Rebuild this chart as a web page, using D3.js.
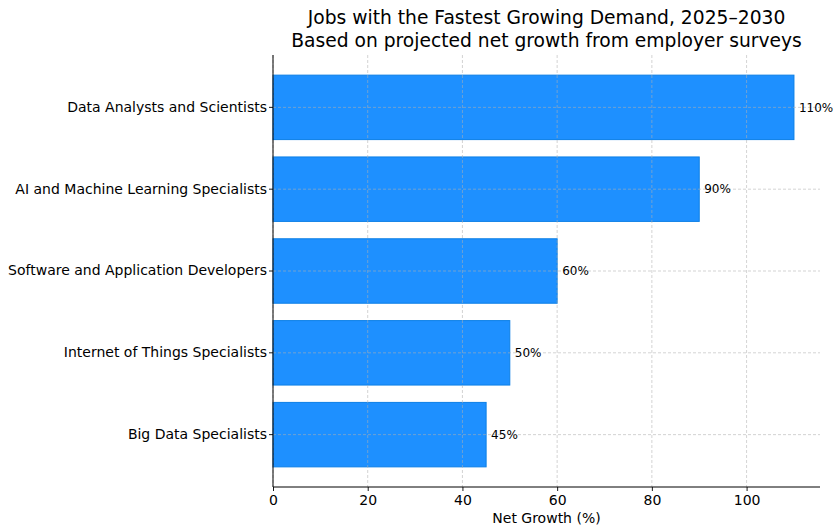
<!DOCTYPE html>
<html>
<head>
<meta charset="UTF-8">
<script src="https://d3js.org/d3.v7.min.js"></script>
<style>
  body { margin: 0; background: #fff; }
  svg text { font-family: "DejaVu Sans", sans-serif; fill: #000; }
</style>
</head>
<body>
<svg width="836" height="527"></svg>
<script>
// data
const jobs = [
  "Data Analysts and Scientists",
  "AI and Machine Learning Specialists",
  "Software and Application Developers",
  "Internet of Things Specialists",
  "Big Data Specialists"
];
const growth = [110, 90, 60, 50, 45];
const xTicks = [0, 20, 40, 60, 80, 100];

const dataset = jobs.map((j, i) => ({ job: j, value: growth[i] }));

const margin = { top: 55, right: 16, bottom: 40, left: 273 },
      width = 836 - margin.left - margin.right,
      height = 527 - margin.top - margin.bottom;

const svg = d3.select("svg");
const g = svg.append("g")
  .attr("transform", `translate(${margin.left},${margin.top})`);

const x = d3.scaleLinear().domain([0, 115.5]).range([0, width]);

// matplotlib-ish band: bars 0.8 tall, 0.24 margin either side
const step = height / 5.28;
const y = d3.scaleBand()
  .domain(jobs)
  .range([0.14 * step, height - 0.14 * step])
  .paddingInner(0.2)
  .paddingOuter(0.1);

g.selectAll(".bar")
  .data(dataset)
  .enter()
  .append("rect")
  .attr("class", "bar")
  .attr("x", 0)
  .attr("y", d => y(d.job) + 0.5)
  .attr("width", d => x(d.value))
  .attr("height", y.bandwidth() - 1)
  .attr("fill", "#1e90ff")
  .attr("stroke", "#0b7fe6")
  .attr("stroke-width", 1);

// grid on top of bars
const grid = g.append("g").attr("class", "grid");
grid.selectAll(".vgrid")
  .data(xTicks.concat([120]).filter(t => x(t) <= width))
  .enter()
  .append("line")
  .attr("x1", d => x(d)).attr("x2", d => x(d))
  .attr("y1", 0).attr("y2", height)
  .attr("stroke", "#b0b0b0")
  .attr("stroke-opacity", 0.7)
  .attr("stroke-dasharray", "3,2")
  .attr("stroke-width", 0.8);
grid.selectAll(".hgrid")
  .data(jobs)
  .enter()
  .append("line")
  .attr("x1", 0).attr("x2", width)
  .attr("y1", d => y(d) + y.bandwidth() / 2)
  .attr("y2", d => y(d) + y.bandwidth() / 2)
  .attr("stroke", "#b0b0b0")
  .attr("stroke-opacity", 0.7)
  .attr("stroke-dasharray", "3,2")
  .attr("stroke-width", 0.8);

g.selectAll(".label")
  .data(dataset)
  .enter()
  .append("text")
  .attr("class", "label")
  .attr("x", d => x(d.value) + 5)
  .attr("y", d => y(d.job) + y.bandwidth() / 2)
  .attr("dy", "0.35em")
  .style("font-size", "12px")
  .text(d => d.value + "%");

const xAxis = g.append("g")
  .attr("transform", `translate(0,${height})`)
  .call(d3.axisBottom(x).tickValues(xTicks).tickSize(4).tickPadding(4));
const yAxis = g.append("g")
  .call(d3.axisLeft(y).tickSize(4).tickPadding(2));

[xAxis, yAxis].forEach(a => {
  a.selectAll("text").style("font-size", "14px").attr("fill", "#000");
  a.selectAll("line").attr("stroke", "#000").attr("stroke-width", 0.9);
  a.select(".domain").attr("stroke", "#000").attr("stroke-width", 1)
    .attr("d", a === xAxis ? `M0,0H${width}` : `M0,0V${height}`);
});

g.append("text")
  .attr("x", width / 2)
  .attr("y", height + 36)
  .attr("text-anchor", "middle")
  .style("font-size", "14px")
  .text("Net Growth (%)");

const title = svg.append("text")
  .attr("x", margin.left + width / 2)
  .attr("text-anchor", "middle")
  .style("font-size", "18.7px");
title.append("tspan").attr("x", margin.left + width / 2).attr("y", 24)
  .text("Jobs with the Fastest Growing Demand, 2025–2030");
title.append("tspan").attr("x", margin.left + width / 2).attr("y", 47)
  .text("Based on projected net growth from employer surveys");
</script>
</body>
</html>
